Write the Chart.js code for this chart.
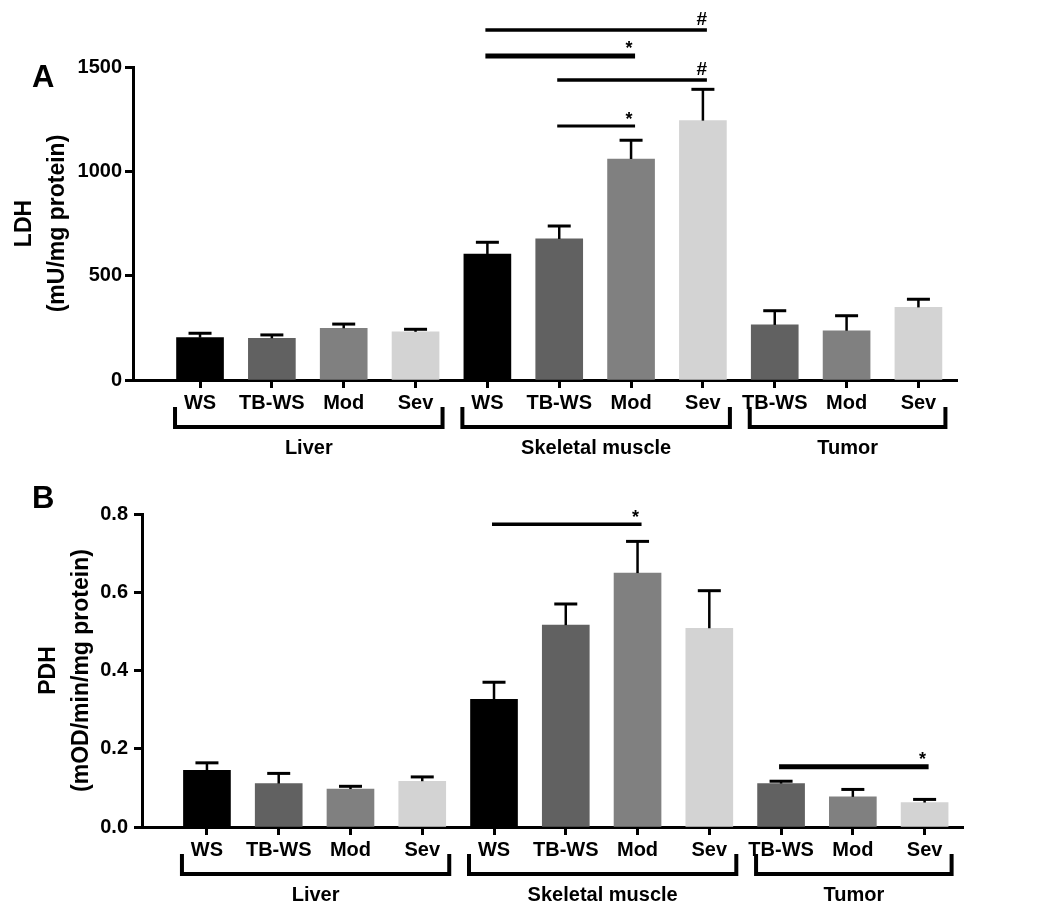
<!DOCTYPE html>
<html><head><meta charset="utf-8">
<script src="https://cdn.jsdelivr.net/npm/chart.js@4.4.1/dist/chart.umd.min.js"></script>
<style>
html,body{margin:0;padding:0;background:#fff;}
canvas{display:block;}
</style></head><body>
<canvas id="chartA" width="1050" height="460"></canvas>
<canvas id="chartB" width="1050" height="451"></canvas>
<script>
// ---------- DATA ----------
const categories = ['WS','TB-WS','Mod','Sev','WS','TB-WS','Mod','Sev','TB-WS','Mod','Sev'];
const groupNames = ['Liver','Skeletal muscle','Tumor'];
const groupStart = [0, 4, 8];
const groupEnd   = [3, 7, 10];

const ldhMean = [203, 200, 248, 231, 604, 676, 1059, 1243, 264, 236, 348];
const ldhErr  = [21, 16, 20, 12, 56, 62, 90, 150, 68, 72, 39];
const ldhTicks = [0, 500, 1000, 1500];

const pdhMean = [0.145, 0.111, 0.097, 0.117, 0.326, 0.516, 0.649, 0.508, 0.111, 0.077, 0.0625];
const pdhErr  = [0.019, 0.026, 0.007, 0.011, 0.044, 0.054, 0.081, 0.096, 0.006, 0.019, 0.008];
const pdhTicks = [0, 0.2, 0.4, 0.6, 0.8];

// significance comparisons (bar indices, height in data units, mark)
const sigAFrom  = [4, 4, 5, 5];
const sigATo    = [7, 6, 7, 6];
const sigAValue = [1677, 1553, 1438, 1217];
const sigAMark  = ['#', '*', '#', '*'];

const sigBFrom  = [4, 8];
const sigBTo    = [6, 10];
const sigBValue = [0.774, 0.154];
const sigBMark  = ['*', '*'];

// ---------- STYLE ----------
const barColors = ['#000000','#616161','#808080','#d3d3d3','#000000','#616161','#808080','#d3d3d3','#616161','#808080','#d3d3d3'];
const sigAWidth = [3.5, 5, 3.5, 3];
const sigBWidth = [3.5, 5];
const FONT = '"Liberation Sans", Arial, sans-serif';

const decorPlugin = {
  id: 'figureDecor',
  afterDatasetsDraw(chart, args, o) {
    const ctx = chart.ctx, xs = chart.scales.x, ys = chart.scales.y;
    ctx.save();
    ctx.strokeStyle = '#000';
    o.means.forEach((m, i) => {
      const x = xs.getPixelForValue(i);
      const y0 = ys.getPixelForValue(m);
      const y1 = ys.getPixelForValue(m + o.errors[i]);
      ctx.lineWidth = 2.5;
      ctx.beginPath(); ctx.moveTo(x, y0); ctx.lineTo(x, y1); ctx.stroke();
      ctx.lineWidth = 3;
      ctx.beginPath(); ctx.moveTo(x - 11.5, y1); ctx.lineTo(x + 11.5, y1); ctx.stroke();
    });
    ctx.restore();
  },
  afterDraw(chart, args, o) {
    const ctx = chart.ctx, xs = chart.scales.x, ys = chart.scales.y;
    const bottom = chart.chartArea.bottom;
    ctx.save();
    ctx.strokeStyle = '#000';
    ctx.fillStyle = '#000';
    // significance bars
    o.sigFrom.forEach((f, k) => {
      const x0 = xs.getPixelForValue(f) - 2;
      const x1 = xs.getPixelForValue(o.sigTo[k]) + 4;
      const y = ys.getPixelForValue(o.sigValue[k]);
      ctx.lineWidth = o.sigWidth[k];
      ctx.beginPath(); ctx.moveTo(x0, y); ctx.lineTo(x1, y); ctx.stroke();
      const mark = o.sigMark[k];
      ctx.textAlign = 'center';
      ctx.textBaseline = 'alphabetic';
      if (mark === '#') {
        ctx.font = 'bold 19px ' + FONT;
        ctx.fillText(mark, x1 - 5, y - 5);
      } else {
        ctx.font = 'bold 18px ' + FONT;
        ctx.fillText(mark, x1 - 6, y - 1.5);
      }
    });
    // group brackets
    ctx.lineWidth = 4;
    groupNames.forEach((g, k) => {
      const xa = xs.getPixelForValue(groupStart[k]) - 25;
      const xb = xs.getPixelForValue(groupEnd[k]) + 27;
      const yt = bottom + 27, yl = bottom + 47;
      ctx.beginPath();
      ctx.moveTo(xa, yt); ctx.lineTo(xa, yl); ctx.lineTo(xb, yl); ctx.lineTo(xb, yt);
      ctx.stroke();
      ctx.font = 'bold 20px ' + FONT;
      ctx.textAlign = 'center';
      ctx.textBaseline = 'middle';
      ctx.fillText(g, (xa + xb) / 2, bottom + 68);
    });
    // panel letter
    ctx.font = 'bold 31px ' + FONT;
    ctx.textAlign = 'left';
    ctx.textBaseline = 'alphabetic';
    ctx.fillText(o.letter, 32, o.letterY);
    ctx.restore();
  }
};

function makeChart(id, cfg) {
  return new Chart(document.getElementById(id), {
    type: 'bar',
    data: {
      datasets: [{
        data: categories.map((c, i) => ({ x: i, y: cfg.means[i] })),
        backgroundColor: barColors,
        borderWidth: 0,
        barThickness: 47
      }]
    },
    options: {
      responsive: false,
      animation: false,
      devicePixelRatio: 1,
      layout: { padding: { top: cfg.padTop, right: cfg.padRight, left: 0, bottom: 0 } },
      plugins: {
        legend: { display: false },
        tooltip: { enabled: false },
        figureDecor: {
          means: cfg.means, errors: cfg.errors,
          sigFrom: cfg.sigFrom, sigTo: cfg.sigTo, sigValue: cfg.sigValue, sigMark: cfg.sigMark, sigWidth: cfg.sigWidth,
          letter: cfg.letter, letterY: cfg.letterY
        }
      },
      scales: {
        x: {
          type: 'linear',
          min: cfg.xMin, max: cfg.xMax,
          offset: false,
          z: 1,
          afterFit: s => { s.height = cfg.xHeight; },
          afterBuildTicks: s => { s.ticks = categories.map((c, i) => ({ value: i })); },
          border: { display: true, color: '#000', width: 3 },
          grid: { offset: false, drawOnChartArea: false, drawTicks: true, tickLength: 8, tickWidth: 3, tickColor: '#000' },
          ticks: {
            autoSkip: false, maxRotation: 0, minRotation: 0, padding: 3,
            color: '#000', font: { family: FONT, size: 20, weight: 'bold' },
            callback: v => categories[v]
          }
        },
        y: {
          min: 0, max: cfg.yMax,
          z: 1,
          afterFit: s => { s.width = cfg.yWidth; },
          afterBuildTicks: s => { s.ticks = cfg.ticks.map(v => ({ value: v })); },
          border: { display: true, color: '#000', width: 3 },
          grid: { drawOnChartArea: false, drawTicks: true, tickLength: 8, tickWidth: 3, tickColor: '#000' },
          ticks: {
            padding: cfg.tickPad, color: '#000',
            font: { family: FONT, size: 20, weight: 'bold' },
            callback: cfg.fmt
          },
          title: {
            display: true, text: cfg.title, color: '#000',
            font: { family: FONT, size: 23, weight: 'bold', lineHeight: 1.4 },
            padding: { top: cfg.titlePad, bottom: 0 }
          }
        }
      }
    },
    plugins: [decorPlugin]
  });
}

makeChart('chartA', {
  means: ldhMean, errors: ldhErr, ticks: ldhTicks, yMax: 1500,
  sigFrom: sigAFrom, sigTo: sigATo, sigValue: sigAValue, sigMark: sigAMark, sigWidth: sigAWidth,
  title: ['LDH', '(mU/mg protein)'], titlePad: 9,
  letter: 'A', letterY: 87,
  padTop: 67, padRight: 93, yWidth: 133, xHeight: 80,
  xMin: -0.933, xMax: 10.537, tickPad: 3,
  fmt: v => String(v)
});

makeChart('chartB', {
  means: pdhMean, errors: pdhErr, ticks: pdhTicks, yMax: 0.8,
  sigFrom: sigBFrom, sigTo: sigBTo, sigValue: sigBValue, sigMark: sigBMark, sigWidth: sigBWidth,
  title: ['PDH', '(mOD/min/mg protein)'], titlePad: 33,
  letter: 'B', letterY: 48,
  padTop: 54, padRight: 87, yWidth: 142, xHeight: 84,
  xMin: -0.905, xMax: 10.535, tickPad: 6,
  fmt: v => Number(v).toFixed(1)
});
</script>
</body></html>
